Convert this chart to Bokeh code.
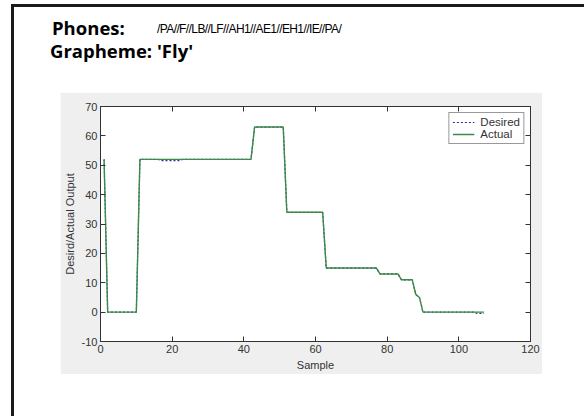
from bokeh.plotting import figure
from bokeh.layouts import column, row
from bokeh.models import LinearAxis, Legend, LegendItem, FixedTicker, Div
from bokeh.embed import file_html
from bokeh.resources import INLINE

# Network output for the grapheme "Fly", one value per sample
samples = list(range(1, 108))

actual = [
    52, 0, 0, 0, 0, 0, 0, 0, 0, 0,
    52, 52, 52, 52, 52, 52, 52, 52, 52, 52,
    52, 52, 52, 52, 52, 52, 52, 52, 52, 52,
    52, 52, 52, 52, 52, 52, 52, 52, 52, 52,
    52, 52, 63, 63, 63, 63, 63, 63, 63, 63,
    63, 34, 34, 34, 34, 34, 34, 34, 34, 34,
    34, 34, 15, 15, 15, 15, 15, 15, 15, 15,
    15, 15, 15, 15, 15, 15, 15, 13, 13, 13,
    13, 13, 13, 11, 11, 11, 11, 6, 5, 0,
    0, 0, 0, 0, 0, 0, 0, 0, 0, 0,
    0, 0, 0, 0, 0, 0, 0,
]

desired = [
    52, 0, 0, 0, 0, 0, 0, 0, 0, 0,
    52, 52, 52, 52, 52, 52, 51.6, 51.6, 51.6, 51.6,
    51.6, 51.6, 52, 52, 52, 52, 52, 52, 52, 52,
    52, 52, 52, 52, 52, 52, 52, 52, 52, 52,
    52, 52, 63, 63, 63, 63, 63, 63, 63, 63,
    63, 34, 34, 34, 34, 34, 34, 34, 34, 34,
    34, 34, 15, 15, 15, 15, 15, 15, 15, 15,
    15, 15, 15, 15, 15, 15, 15, 13, 13, 13,
    13, 13, 13, 11, 11, 11, 11, 6, 5, 0,
    0, 0, 0, 0, 0, 0, 0, 0, 0, 0,
    0, 0, 0, 0, -0.4, -0.4, -0.4,
]

x_ticks = [0, 20, 40, 60, 80, 100, 120]
y_ticks = [-10, 0, 10, 20, 30, 40, 50, 60, 70]
y_tick_labels = ["-10", "0", "10", "20", "30", "40", "50", "60", "70"]

phones_label = "Phones:"
phones_text = "/PA//F//LB//LF//AH1//AE1//EH1//IE//PA/"
grapheme_text = "Grapheme: 'Fly'"

AX_COLOR = "#333333"
TICK_FONT = "Liberation Sans"
FRAME = "#1a1a1a"

# ---- plot panel (grey surround, white axes box) ----
p = figure(
    width=482, height=282,
    x_range=(0, 120), y_range=(-10, 70),
    output_backend="svg", toolbar_location=None,
    min_border_left=40, min_border_right=12,
    min_border_top=14, min_border_bottom=33,
    x_axis_label="Sample", y_axis_label="Desird/Actual Output",
)
p.background_fill_color = "white"
p.border_fill_color = "#efefef"
p.outline_line_color = AX_COLOR
p.outline_line_width = 1
p.xgrid.visible = False
p.ygrid.visible = False


def style_axis(ax, show_labels=True):
    ax.axis_line_color = AX_COLOR
    ax.major_tick_line_color = AX_COLOR
    ax.major_tick_in = 5
    ax.major_tick_out = 0
    ax.minor_tick_line_color = None
    ax.major_label_text_font = TICK_FONT
    ax.major_label_text_font_size = "11px" if show_labels else "0px"
    ax.major_label_text_color = AX_COLOR if show_labels else None
    ax.major_label_standoff = 3 if show_labels else 0
    ax.axis_label_text_font = TICK_FONT
    ax.axis_label_text_font_size = "11px"
    ax.axis_label_text_font_style = "normal"
    ax.axis_label_text_color = AX_COLOR
    ax.axis_label_standoff = 3


p.xaxis.ticker = FixedTicker(ticks=x_ticks)
p.yaxis.ticker = FixedTicker(ticks=y_ticks)
p.yaxis.major_label_overrides = dict(zip(y_ticks, y_tick_labels))
for ax in p.xaxis + p.yaxis:
    style_axis(ax)

top_ax = LinearAxis(ticker=FixedTicker(ticks=x_ticks))
right_ax = LinearAxis(ticker=FixedTicker(ticks=y_ticks))
style_axis(top_ax, show_labels=False)
style_axis(right_ax, show_labels=False)
p.add_layout(top_ax, "above")
p.add_layout(right_ax, "right")

r_des = p.line(samples, desired, line_color="#2a2aa0", line_width=1.2, line_dash="2 2")
r_act = p.line(samples, actual, line_color="#3b8a45", line_width=1.4)

legend = Legend(items=[LegendItem(label="Desired", renderers=[r_des]),
                       LegendItem(label="Actual", renderers=[r_act])],
                location="top_right")
legend.margin = 6
legend.padding = 3
legend.spacing = 0
legend.label_height = 12
legend.glyph_height = 12
legend.glyph_width = 22
legend.label_standoff = 6
legend.label_text_font = TICK_FONT
legend.label_text_font_size = "11.5px"
legend.label_text_color = AX_COLOR
legend.border_line_color = AX_COLOR
legend.background_fill_color = "white"
legend.background_fill_alpha = 1
p.add_layout(legend)

# ---- page header with the frame's top edge ----
header_html = f"""
<div style="position:relative;width:584px;height:92px;margin:0;padding:0;">
  <div style="position:absolute;left:11px;top:4px;width:573px;height:2.5px;background:{FRAME};"></div>
  <div style="position:absolute;left:11px;top:4px;width:2.5px;height:88px;background:{FRAME};"></div>
  <span style="position:absolute;left:52px;top:19px;font-family:'Open Sans';font-weight:bold;
               font-size:18.5px;line-height:18.5px;white-space:nowrap;color:#000;">{phones_label}</span>
  <span style="position:absolute;left:157px;top:23px;font-family:'Liberation Sans';
               font-size:12px;letter-spacing:-0.6px;line-height:12px;white-space:nowrap;color:#000;">{phones_text}</span>
  <span style="position:absolute;left:50px;top:42px;font-family:'Open Sans';font-weight:bold;
               font-size:18.5px;line-height:18.5px;white-space:nowrap;color:#000;">{grapheme_text}</span>
</div>
"""
header = Div(text=header_html, width=584, height=92, margin=0)

# left edge of the page frame beside the plot panel
strip_html = f"""
<div style="position:relative;width:60px;height:324px;margin:0;padding:0;">
  <div style="position:absolute;left:11px;top:0;width:2.5px;height:324px;background:{FRAME};"></div>
</div>
"""
strip = Div(text=strip_html, width=60, height=324, margin=0)

p.margin = 0
page = column(header, row(strip, p, spacing=0, margin=0), spacing=0, margin=0)

open("out.html", "w").write(file_html(page, INLINE))
